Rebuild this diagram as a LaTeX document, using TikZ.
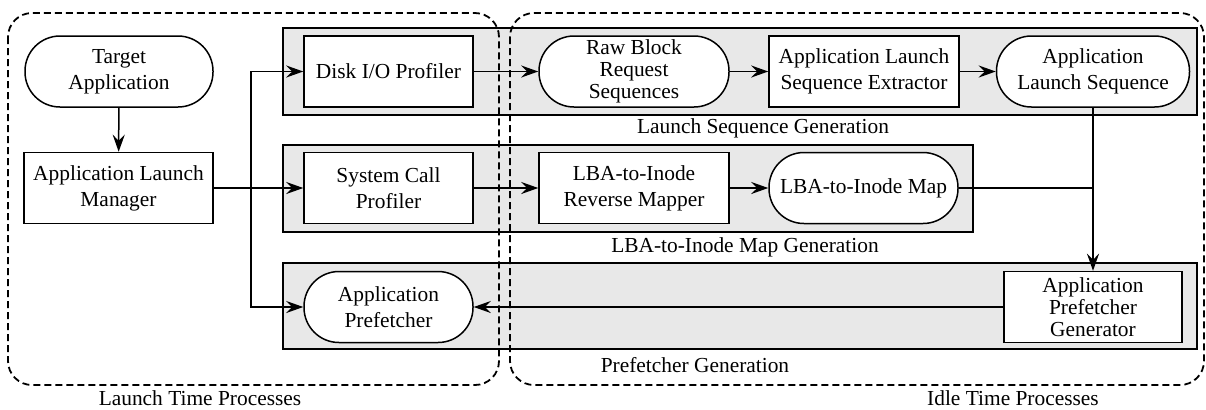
\documentclass[tikz,border=0pt]{standalone}
\usepackage{fontspec}
\setmainfont{Liberation Serif}
\usetikzlibrary{arrows.meta}

\tikzset{
  procbox/.style={draw, line width=0.75pt, fill=white, align=center,
    minimum height=35.5pt, inner sep=1pt,
    font=\fontsize{10.7}{13}\selectfont},
  databox/.style={procbox, rounded corners=17.5pt},
  band/.style={draw, line width=0.55pt, fill=black!9},
  phase/.style={line width=0.9pt, dash pattern=on 3.5pt off 2pt, rounded corners=12pt},
  tag/.style={font=\fontsize{10.7}{13}\selectfont},
  flow/.style={line width=0.75pt, -{Stealth[length=8.5pt,width=6pt,inset=3pt]}},
  link/.style={line width=0.75pt}
}

\begin{document}
\begin{tikzpicture}[x=0.5pt,y=-0.5pt]
		\useasboundingbox (0,0) rectangle (1206,409);
		
		% Shaded stages
		\draw[band] (283,28) rectangle (1197,115);
		\draw[band] (283,145) rectangle (973,232);
		\draw[band] (283,263) rectangle (1197,349);
		\node[tag] (seqgen) at (763,128) {Launch Sequence Generation};
		\node[tag] (mapgen) at (745,247) {LBA-to-Inode Map Generation};
		\node[tag] (pfgen-tag) at (695,365) {Prefetcher Generation};
		
		% Launch time / idle time regions
		\draw[phase] (8,13) rectangle (499,385);
		\draw[phase] (510,13) rectangle (1204,385);
		\node[tag] (launchtime) at (200,398) {Launch Time Processes};
		\node[tag] (idletime) at (1013,398) {Idle Time Processes};
		
		% Launch time side
		\node[databox, minimum width=94pt] (target) at (119,71.5) {Target\\Application};
		\node[procbox, minimum width=94.5pt] (manager) at (118.5,188) {Application Launch\\Manager};
		
		% First column of the stages
		\node[procbox, minimum width=84.5pt] (diskio) at (388.5,71.5) {Disk I/O Profiler};
		\node[procbox, minimum width=84.5pt] (syscall) at (388.5,188) {System Call\\Profiler};
		\node[databox, minimum width=84.5pt] (prefetcher) at (388.5,307) {Application\\Prefetcher};
		
		% Launch sequence generation
		\node[databox, minimum width=95pt, font=\fontsize{10.7}{11}\selectfont] (rawblock) at (634,71.5) {Raw Block\\Request\\Sequences};
		\node[procbox, minimum width=95pt] (extractor) at (864,71.5) {Application Launch\\Sequence Extractor};
		\node[databox, minimum width=96.5pt] (launchseq) at (1093,71.5) {Application\\Launch Sequence};
		
		% LBA-to-inode map generation
		\node[procbox, minimum width=95pt] (mapper) at (634,188) {LBA-to-Inode\\Reverse Mapper};
		\node[databox, minimum width=94.5pt] (lbamap) at (863.5,188) {LBA-to-Inode Map};
		
		% Prefetcher generation
		\node[procbox, minimum width=89pt, font=\fontsize{10.7}{11}\selectfont] (generator) at (1093,307) {Application\\Prefetcher\\Generator};
		
		% Connectors
		\coordinate (split) at (251,188);
		\draw[flow] (target) -- (manager);
		\draw[flow] (manager) -- (syscall);
		\draw[flow] (split) |- (diskio);
		\draw[flow] (split) |- (prefetcher);
		\draw[flow] (diskio) -- (rawblock);
		\draw[flow] (rawblock) -- (extractor);
		\draw[flow] (extractor) -- (launchseq);
		\draw[flow] (syscall) -- (mapper);
		\draw[flow] (mapper) -- (lbamap);
		\draw[link] (lbamap) -- (lbamap -| launchseq);
		\draw[flow] (launchseq) -- (generator);
		\draw[flow] (generator) -- (prefetcher);
		
	\end{tikzpicture}
\end{document}
